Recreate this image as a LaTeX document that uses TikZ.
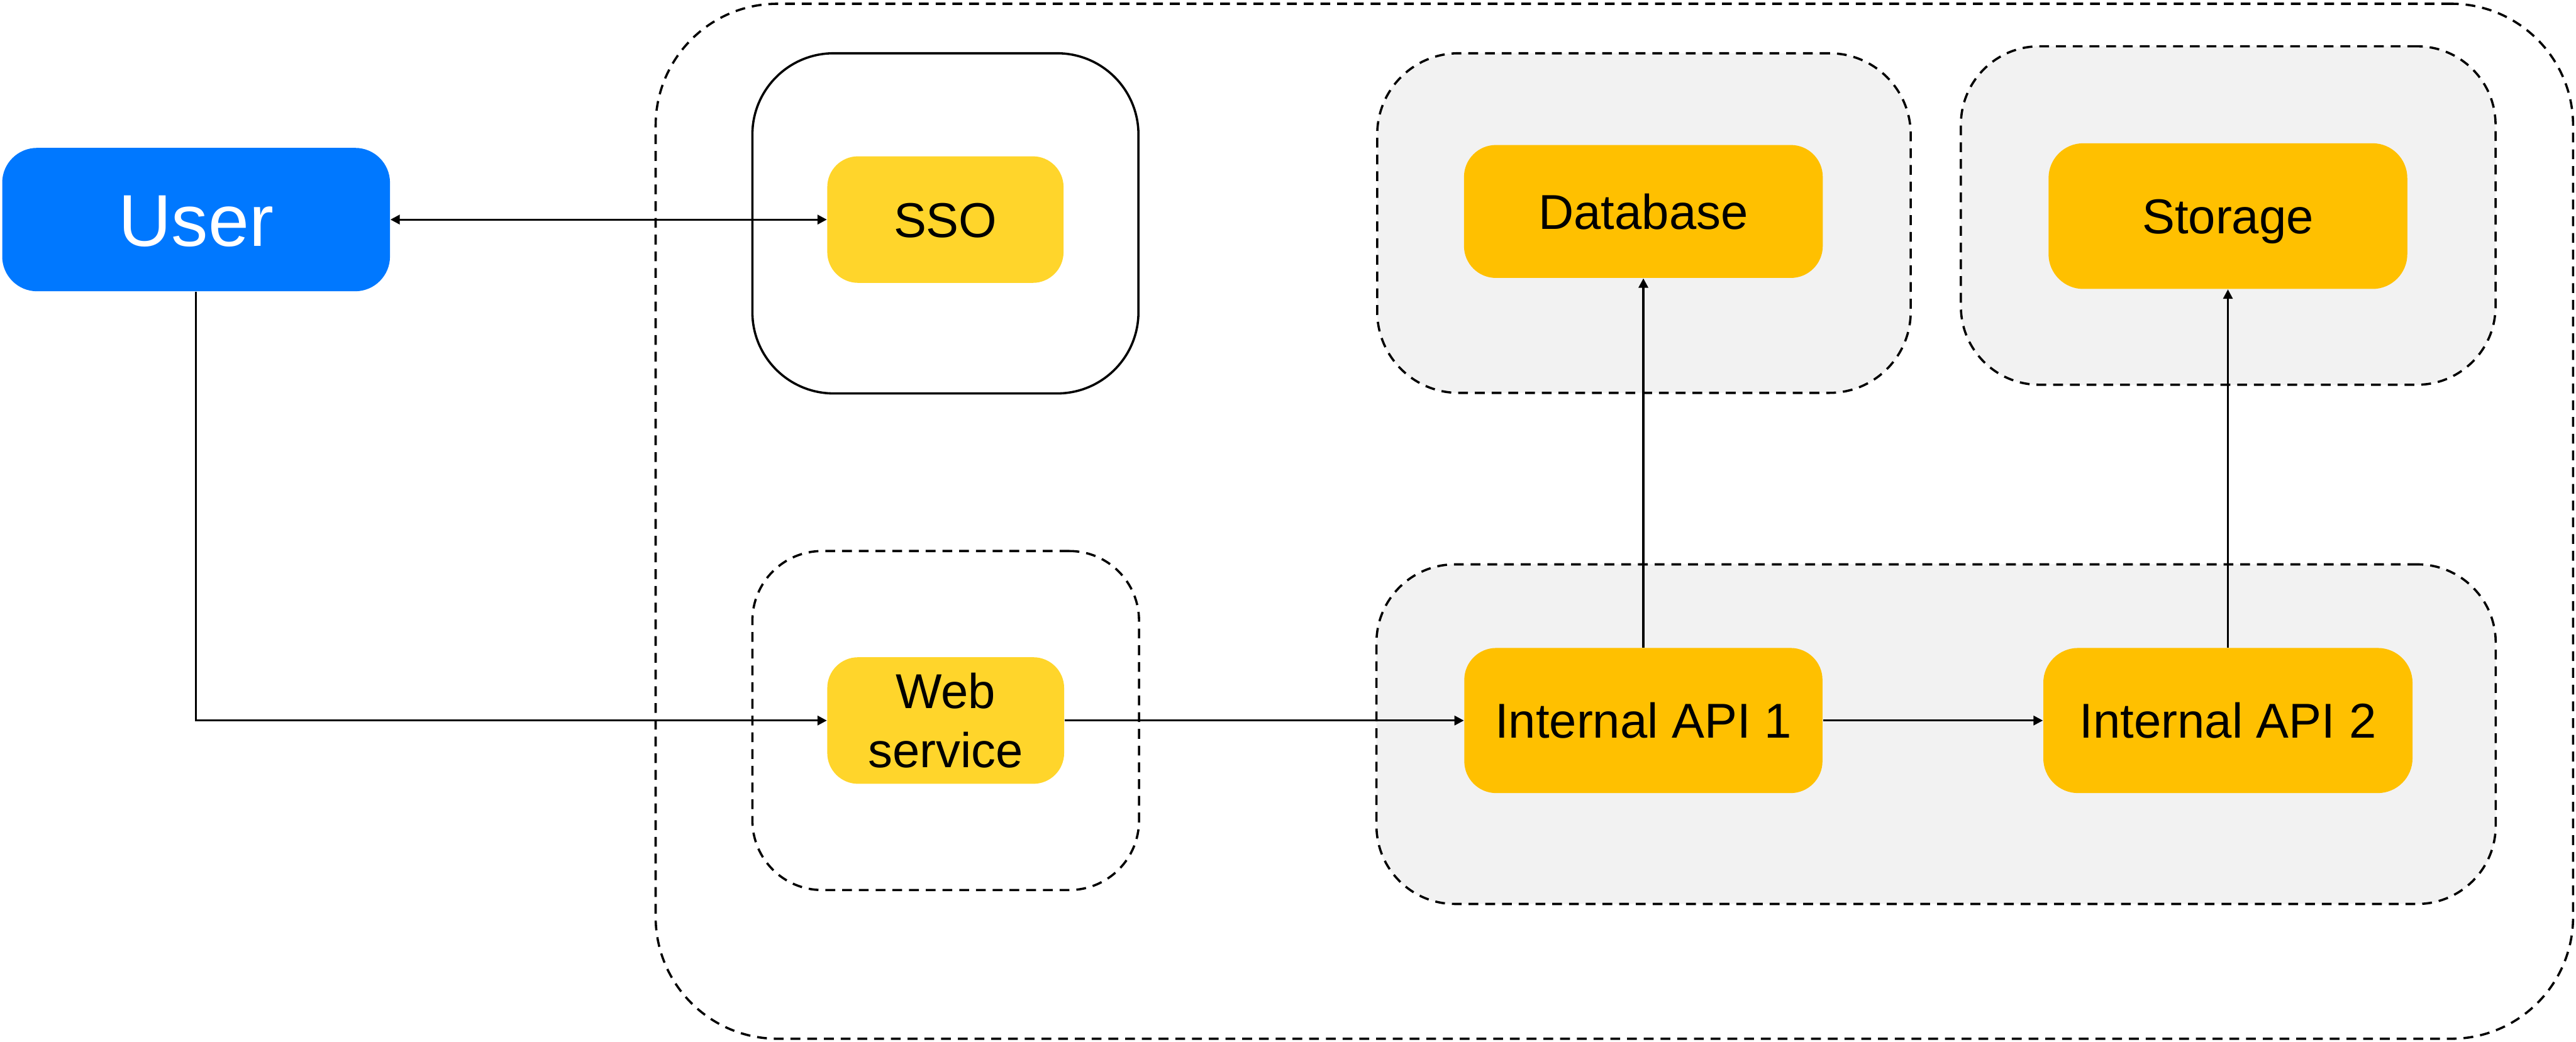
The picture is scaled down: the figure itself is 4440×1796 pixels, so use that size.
\documentclass[tikz,border=0pt]{standalone}
\usepackage{fontspec}
\setmainfont{Liberation Sans}
\usetikzlibrary{arrows.meta}
\definecolor{userblue}{RGB}{0,120,255}
\definecolor{lightyellow}{RGB}{255,213,43}
\definecolor{amber}{RGB}{255,192,0}
\definecolor{groupgray}{RGB}{242,242,242}
\tikzset{
  grp/.style={draw=black, line width=1.1pt, rectangle, inner sep=0pt},
  dashgrp/.style={grp, dash pattern=on 4.8pt off 3.4pt},
  svc/.style={rectangle, inner sep=0pt, align=center, font=\fontsize{24}{29}\selectfont},
  oneline/.style={text height=17.2pt, text depth=0pt},
  arr/.style={draw=black, line width=1pt, -{Triangle[length=4.6pt,width=4.6pt]}},
  dblarr/.style={draw=black, line width=1pt, {Triangle[length=4.6pt,width=4.6pt]}-{Triangle[length=4.6pt,width=4.6pt]}}
}
\begin{document}
\begin{tikzpicture}[x=0.01cm, y=-0.01cm]
\useasboundingbox (0,0) rectangle (4440,1796);

% group frames
\node[dashgrp, minimum width=33.03cm, minimum height=17.83cm, rounded corners=2.1cm] (outer) at (2782.5,898.5) {};
\node[grp, minimum width=6.65cm, minimum height=5.86cm, rounded corners=1.4cm] (ssogrp) at (1629.5,385) {};
\node[dashgrp, minimum width=6.66cm, minimum height=5.84cm, rounded corners=1.2cm] (webgrp) at (1630,1242) {};
\node[dashgrp, fill=groupgray, minimum width=19.28cm, minimum height=5.85cm, rounded corners=1.35cm] (apigrp) at (3337,1265.5) {};
\node[dashgrp, fill=groupgray, minimum width=9.19cm, minimum height=5.85cm, rounded corners=1.4cm] (dbgrp) at (2833.5,384.5) {};
\node[dashgrp, fill=groupgray, minimum width=9.21cm, minimum height=5.83cm, rounded corners=1.35cm] (stgrp) at (3840.5,371.5) {};

% components
\node[svc, fill=userblue, text=white, minimum width=6.68cm, minimum height=2.47cm, rounded corners=0.6cm, font=\fontsize{36}{43}\selectfont, text height=25.8pt, text depth=0pt] (user) at (338,378.5) {User};
\node[svc, oneline, fill=lightyellow, minimum width=4.07cm, minimum height=2.18cm, rounded corners=0.53cm] (sso) at (1629.5,378.5) {SSO};
\node[svc, fill=lightyellow, minimum width=4.08cm, minimum height=2.18cm, rounded corners=0.53cm] (web) at (1630,1242) {Web\\service};
\node[svc, oneline, fill=amber, minimum width=6.17cm, minimum height=2.5cm, rounded corners=0.55cm] (api1) at (2832.5,1242) {Internal API 1};
\node[svc, oneline, fill=amber, minimum width=6.36cm, minimum height=2.5cm, rounded corners=0.6cm] (api2) at (3840,1242) {Internal API 2};
\node[svc, oneline, fill=amber, minimum width=6.18cm, minimum height=2.29cm, rounded corners=0.55cm] (db) at (2832.5,364.5) {Database};
\node[svc, oneline, fill=amber, minimum width=6.18cm, minimum height=2.51cm, rounded corners=0.6cm] (storage) at (3840,372.5) {Storage};

% connectors
\draw[dblarr] (user.east) -- (sso.west);
\draw[arr] (user.south) |- (web.west);
\draw[arr] (web.east) -- (api1.west);
\draw[arr] (api1.east) -- (api2.west);
\draw[arr] (api1.north) -- (db.south);
\draw[arr] (api2.north) -- (storage.south);
\end{tikzpicture}
\end{document}
